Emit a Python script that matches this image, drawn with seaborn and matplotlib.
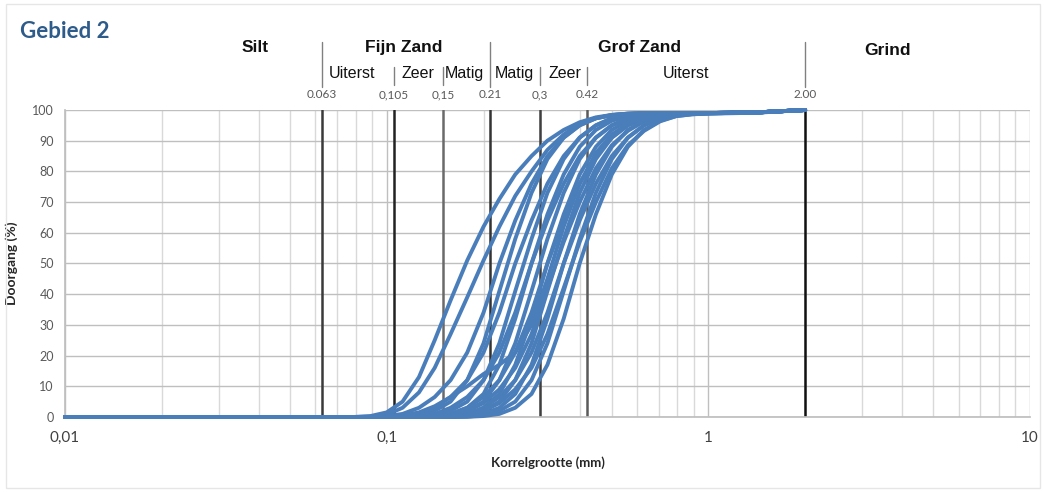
import numpy as np
import pandas as pd
import seaborn as sns
import matplotlib.pyplot as plt
from matplotlib.ticker import FixedLocator, NullFormatter, LogLocator
from matplotlib.patches import Rectangle

# zeefmaten (mm) waarop de doorgang is bepaald
sieves = [0.01, 0.079, 0.089, 0.1, 0.112, 0.126, 0.141, 0.158, 0.178, 0.2, 0.224,
          0.251, 0.282, 0.316, 0.355, 0.398, 0.447, 0.501, 0.562, 0.631, 0.708,
          0.794, 0.891, 1.0, 1.41, 2.0]

# doorgang (%) per monster
m01 = [0, 0, 0.3, 1.5, 5, 13, 25, 38, 51, 62, 71, 79, 85, 90, 93.5, 96, 97.6, 98.4, 98.8, 99, 99, 99, 99, 99, 99.2, 100]
m02 = [0, 0, 0.1, 0.8, 3, 8, 16, 27, 39, 51, 62, 72, 80, 87, 92, 95.5, 97.3, 98.3, 98.8, 99, 99, 99, 99, 99, 99.2, 100]
m03 = [0, 0, 0, 0.3, 1, 3, 6.5, 12, 21, 34, 50, 64, 76, 85, 91, 95, 97.3, 98.4, 98.8, 99, 99, 99, 99, 99, 99.2, 100]
m04 = [0, 0, 0, 0, 0.1, 0.6, 2, 5, 12, 24, 41, 58, 73, 84, 91, 95, 97.3, 98.3, 98.7, 98.9, 99, 99, 99, 99, 99.2, 100]
m05 = [0, 0, 0, 0, 0.3, 1, 3, 6.5, 12, 21, 34, 50, 64, 76, 85, 91, 95, 97.3, 98.4, 98.8, 99, 99, 99, 99, 99.2, 100]
m06 = [0, 0, 0, 0, 0, 0.1, 0.6, 2, 5, 12, 24, 41, 58, 73, 84, 91, 95, 97.3, 98.3, 98.7, 98.9, 99, 99, 99, 99.2, 100]
m07 = [0, 0, 0, 0, 0, 0.3, 1, 3, 6.5, 12, 21, 34, 50, 64, 76, 85, 91, 95, 97.3, 98.4, 98.8, 99, 99, 99, 99.2, 100]
m08 = [0, 0, 0, 0, 0, 0.05, 0.3, 1, 3, 7.5, 17, 32, 50, 66, 79, 88, 93.5, 96.5, 98, 98.6, 98.8, 98.9, 99, 99, 99.2, 100]
m09 = [0, 0, 0, 0, 0.5, 1.5, 3.5, 6.5, 10, 14, 17, 21, 30, 45, 62, 76, 86, 92, 95.5, 97.5, 98.4, 98.8, 99, 99, 99.2, 100]
m10 = [0, 0, 0, 0, 0, 0, 0.1, 0.6, 2, 5, 12, 24, 41, 58, 73, 84, 91, 95, 97.3, 98.3, 98.7, 98.9, 99, 99, 99.2, 100]
m11 = [0, 0, 0, 0, 0, 0, 0.3, 1, 3, 6.5, 12, 21, 34, 50, 64, 76, 85, 91, 95, 97.3, 98.4, 98.8, 99, 99, 99.2, 100]
m12 = [0, 0, 0, 0, 0, 0, 0.05, 0.3, 1, 3, 7.5, 17, 32, 50, 66, 79, 88, 93.5, 96.5, 98, 98.6, 98.8, 98.9, 99, 99.2, 100]
m13 = [0, 0, 0, 0, 0, 0, 0, 0.1, 0.6, 2, 5, 12, 24, 41, 58, 73, 84, 91, 95, 97.3, 98.3, 98.7, 98.9, 99, 99.2, 100]
m14 = [0, 0, 0, 0, 0, 0, 0.1, 0.6, 2, 4.5, 9, 16, 27, 42, 57, 70, 81, 88.5, 93.2, 96.3, 98, 98.6, 98.9, 99, 99.2, 100]
m15 = [0, 0, 0, 0, 0, 0, 0, 0.05, 0.3, 1, 3, 7.5, 17, 32, 50, 66, 79, 88, 93.5, 96.5, 98, 98.6, 98.8, 98.9, 99.2, 100]
m16 = [0, 0, 0, 0, 0, 0, 0, 0.3, 1, 3, 6.5, 12, 21, 34, 50, 64, 76, 85, 91, 95, 97.3, 98.4, 98.8, 99, 99.2, 100]
m17 = [0, 0, 0, 0, 0, 0, 0, 0, 0.1, 0.6, 2, 5, 12, 24, 41, 58, 73, 84, 91, 95, 97.3, 98.3, 98.7, 98.9, 99.2, 100]
m18 = [0, 0, 0, 0, 0, 0, 0, 0.1, 0.6, 2, 4.5, 9, 16, 27, 42, 57, 70, 81, 88.5, 93.2, 96.3, 98, 98.6, 98.9, 99.2, 100]
m19 = [0, 0, 0, 0, 0, 0, 0, 0, 0.05, 0.3, 1, 3, 7.5, 17, 32, 50, 66, 79, 88, 93.5, 96.5, 98, 98.6, 98.8, 99.1, 100]
samples = [m01, m02, m03, m04, m05, m06, m07, m08, m09, m10,
           m11, m12, m13, m14, m15, m16, m17, m18, m19]

# klassegrenzen
bounds = [0.063, 0.105, 0.15, 0.21, 0.3, 0.42, 2.0]
bound_labels = ['0.063', '0,105', '0,15', '0.21', '0,3', '0.42', '2.00']
bound_colors = ['#3a3a3a', '#222222', '#6a6a6a', '#333333', '#3f3f3f', '#5a5a5a', '#111111']
main_classes = ['Silt', 'Fijn Zand', 'Grof Zand', 'Grind']
sub_classes = ['Uiterst', 'Zeer', 'Matig', 'Matig', 'Zeer', 'Uiterst']

rows = []
for i, s in enumerate(samples):
    for d, p in zip(sieves, s):
        rows.append((i, d, p))
df = pd.DataFrame(rows, columns=['monster', 'd', 'p'])

sns.set_theme(style='white')
plt.rcParams['font.family'] = ['Lato', 'DejaVu Sans']

fig = plt.figure(figsize=(10.44, 4.93), dpi=100)
ax = fig.add_axes([0.0623, 0.1542, 0.9243, 0.6227])
ax.set_xscale('log')

# grid
ax.xaxis.set_minor_locator(LogLocator(base=10, subs=np.arange(2, 10)))
ax.xaxis.set_minor_formatter(NullFormatter())
ax.grid(True, which='minor', axis='x', color='#d9d9d9', lw=1, zorder=0)
ax.grid(True, which='major', axis='x', color='#bfbfbf', lw=1, zorder=0)
ax.grid(True, which='major', axis='y', color='#bfbfbf', lw=1, zorder=0)
ax.set_axisbelow(True)

for b, c in zip(bounds, bound_colors):
    ax.axvline(b, color=c, lw=1.8, zorder=1)

sns.lineplot(data=df, x='d', y='p', units='monster', estimator=None,
             color='#4a7ebb', lw=2.8, legend=False, ax=ax, zorder=3, clip_on=False)

ax.set_xlim(0.01, 10)
ax.set_ylim(0, 100)
ax.xaxis.set_major_locator(FixedLocator([0.01, 0.1, 1, 10]))
ax.set_xticklabels(['0,01', '0,1', '1', '10'])
ax.set_yticks(range(0, 101, 10))
ax.tick_params(axis='x', which='major', length=4, color='#bfbfbf', labelsize=11,
               labelcolor='#404040', pad=6)
ax.tick_params(axis='x', which='minor', length=0)
ax.tick_params(axis='y', length=4, color='#bfbfbf', labelsize=9, labelcolor='#595959', pad=4)
for side in ['top', 'right']:
    ax.spines[side].set_visible(False)
for side in ['left', 'bottom']:
    ax.spines[side].set_color('#bfbfbf')

ax.set_xlabel('Korrelgrootte (mm)', fontsize=9.5, fontweight='bold', color='#262626', labelpad=8)
ax.set_ylabel('Doorgang (%)', fontsize=10, fontweight='bold', color='#262626', labelpad=10)

# kop met klasse-indeling
tr = ax.get_xaxis_transform()
hdr = ['Liberation Sans', 'DejaVu Sans']
main_x = [0.039, 0.113, 0.61, 3.6]
for x, t in zip(main_x, main_classes):
    ax.text(x, 1.205 if t != 'Grind' else 1.195, t, transform=tr, ha='center', va='center',
            fontsize=12.5, fontweight='bold', family=hdr, color='#111111')
sub_x = [0.078, 0.125, 0.175, 0.25, 0.358, 0.85]
for x, t in zip(sub_x, sub_classes):
    ax.text(x, 1.12, t, transform=tr, ha='center', va='center', fontsize=11.5,
            family=hdr, color='#111111')
for b, t in zip(bounds, bound_labels):
    ax.text(b, 1.049, t, transform=tr, ha='center', va='center', fontsize=8.5,
            color='#595959')
for b in bounds:
    tall = b in (0.063, 0.21, 2.0)
    y0, y1 = (1.075, 1.221) if tall else (1.08, 1.14)
    ax.plot([b, b], [y0, y1], transform=tr, color='#808080', lw=1, clip_on=False)

fig.text(20 / 1044, 1 - 31 / 493, 'Gebied 2', ha='left', va='center', fontsize=16,
         fontweight='bold', color='#2e5c8a')
fig.patches.append(Rectangle((6 / 1044, 5 / 493), 1034 / 1044, 484 / 493, transform=fig.transFigure,
                             fill=False, edgecolor='#e6e6e6', lw=1))

fig.savefig('out.png', dpi=100)
